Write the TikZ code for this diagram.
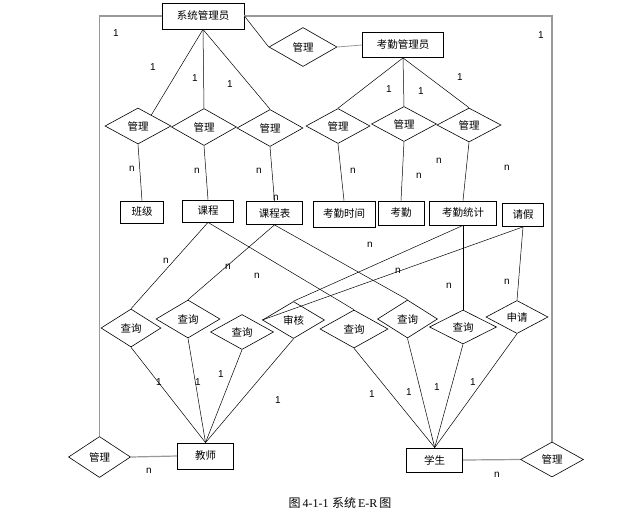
\documentclass[tikz,border=0pt]{standalone}
\usepackage{fontspec}
\setmainfont{Liberation Sans}
\newfontfamily\cjk{Noto Sans CJK SC}
\newfontfamily\capfont{Liberation Serif}
\usetikzlibrary{shapes.geometric,calc}
\begin{document}
\begin{tikzpicture}[x=1pt,y=-1pt,
 ent/.style={draw,line width=0.8pt,inner sep=0pt,font=\cjk\fontsize{10.5}{12}\selectfont},
 dia/.style={draw,diamond,line width=0.6pt,inner sep=0pt,minimum width=64pt,minimum height=36pt,font=\cjk\fontsize{10.5}{12}\selectfont},
 lk/.style={line width=0.5pt},
 fr/.style={line width=1.2pt,draw=gray!80},
 lb/.style={font=\fontsize{10}{12}\selectfont,inner sep=0pt}]
\useasboundingbox (0,0) rectangle (639,528);
\fill[white] (0,0) rectangle (639,528);
% entities
\node[ent,minimum width=82pt,minimum height=26pt] (sys) at (203,16) {系统管理员};
\node[ent,minimum width=81pt,minimum height=25pt] (kq) at (403,45) {考勤管理员};
\node[ent,minimum width=43pt,minimum height=22pt] (bj) at (142,212) {班级};
\node[ent,minimum width=51pt,minimum height=22pt] (kc) at (208,211) {课程};
\node[ent,minimum width=56pt,minimum height=23pt] (kcb) at (274.5,213) {课程表};
\node[ent,minimum width=62pt,minimum height=26pt] (kqsj) at (344,214) {考勤时间};
\node[ent,minimum width=46pt,minimum height=24pt] (kqq) at (401,213) {考勤};
\node[ent,minimum width=67pt,minimum height=24pt] (kqtj) at (463,213) {考勤统计};
\node[ent,minimum width=41pt,minimum height=23pt] (qj) at (523,215) {请假};
\node[ent,minimum width=56pt,minimum height=26pt] (js) at (205.5,456) {教师};
\node[ent,minimum width=56pt,minimum height=24pt] (xs) at (434.7,460) {学生};
% relationships
\node[dia,minimum width=68pt,minimum height=39pt] (dtop) at (303,47) {管理};
\node[dia,minimum width=66pt] (d1) at (138,126) {管理};
\node[dia,minimum width=65pt,minimum height=37pt] (d2) at (204,127) {管理};
\node[dia,minimum width=66pt,minimum height=37pt] (d3) at (270,128) {管理};
\node[dia,minimum height=35pt] (d4) at (338,126) {管理};
\node[dia,minimum width=65pt,minimum height=35pt] (d5) at (404,124) {管理};
\node[dia,minimum height=34pt] (d6) at (469,125) {管理};
\node[dia,minimum width=60pt,minimum height=38pt] (qA) at (131,328) {查询};
\node[dia,minimum height=38pt] (qB) at (188,319) {查询};
\node[dia,minimum width=63pt,minimum height=35pt] (qC) at (242,332) {查询};
\node[dia,minimum width=62pt,minimum height=37pt] (sh) at (293.5,320) {审核};
\node[dia,minimum width=68pt,minimum height=38pt] (qD) at (354,329) {查询};
\node[dia,minimum width=60pt,minimum height=38pt] (qE) at (407.5,319) {查询};
\node[dia,minimum width=67pt,minimum height=34pt] (qF) at (463,327) {查询};
\node[dia,minimum width=62pt,minimum height=33pt] (sq) at (517,317) {申请};
\node[dia,minimum width=62pt,minimum height=41pt] (mL) at (99.5,457) {管理};
\node[dia,minimum width=63pt,minimum height=35pt] (mR) at (552,459.5) {管理};
% frame
\draw[fr] (sys.west) -| (mL.north);
\draw[fr] (sys.east) -| (mR.north);
\draw[fr] (mL.east) -- (js.west);
\draw[fr] (xs.east) -- (mR.west);
\draw[lk] (sys.east) -- (dtop.west);
\draw[fr,line width=0.8pt] (dtop.east) -- (kq.west);
% admin links
\draw[lk] (sys.south) -- ($(d1.north)!0.4!(d1.east)$);
\draw[lk] (sys.south) -- (d2.north);
\draw[lk] (sys.south) -- (d3.north);
\draw[lk] (kq.south) -- (d4.north);
\draw[lk] (kq.south) -- (d5.north);
\draw[lk] (kq.south) -- (d6.north);
\draw[lk] (d1.south) -- (bj.north);
\draw[lk] (d2.south) -- (kc.north);
\draw[lk] (d3.south) -- (kcb.north);
\draw[lk] (d4.south) -- (kqsj.north);
\draw[lk] (d5.south) -- (kqq.north);
\draw[lk] (d6.south) -- (kqtj.north);
% lower links
\draw[lk] (kc.south) -- (qA.north);
\draw[lk] (kc.south) -- (qD.north);
\draw[lk] (kcb.south) -- (qB.north);
\draw[lk] (kcb.south) -- (qE.north);
\draw[lk] (kqtj.south) -- (sh.north);
\draw[lk] (kqtj.south) -- (qF.north);
\draw[lk] (qj.south) -- (sh.west);
\draw[lk] (qj.south) -- (sq.north);
\foreach \d in {qA,qB,qC,sh}{\draw[lk] (\d.south) -- (js.north);}
\foreach \d in {qD,qE,qF,sq}{\draw[lk] (\d.south) -- (xs.north);}
% labels
\node[lb] (l1) at (116,33) {1};
\node[lb] (l2) at (541,35) {1};
\node[lb] (l3) at (153,67) {1};
\node[lb] (l4) at (195,78) {1};
\node[lb] (l5) at (230,84) {1};
\node[lb] (l6) at (389,89) {1};
\node[lb] (l7) at (421,91) {1};
\node[lb] (l8) at (460,77) {1};
\node[lb] (n1) at (132,169) {n};
\node[lb] (n2) at (197,171) {n};
\node[lb] (n3) at (259,171) {n};
\node[lb] (n4) at (276,198) {n};
\node[lb] (n5) at (353,171) {n};
\node[lb] (n6) at (419,176) {n};
\node[lb] (n7) at (439,161) {n};
\node[lb] (n8) at (507,168) {n};
\node[lb] (n9) at (166,261) {n};
\node[lb] (n10) at (228,267) {n};
\node[lb] (n11) at (257,276) {n};
\node[lb] (n12) at (370,245) {n};
\node[lb] (n13) at (398,271) {n};
\node[lb] (n14) at (449,286) {n};
\node[lb] (n15) at (507,282) {n};
\node[lb] (o1) at (159,382) {1};
\node[lb] (o2) at (198,382) {1};
\node[lb] (o3) at (221,374) {1};
\node[lb] (o4) at (278,400) {1};
\node[lb] (o5) at (372,394) {1};
\node[lb] (o6) at (409,392) {1};
\node[lb] (o7) at (437,387) {1};
\node[lb] (o8) at (473,382) {1};
\node[lb] (n16) at (149,471) {n};
\node[lb] (n17) at (497,475) {n};
\node[inner sep=0pt,font=\fontsize{12}{14}\selectfont] (cap) at (340,503) {{\cjk 图}\,{\capfont 4-1-1} {\cjk 系统}\,{\capfont E-R}\,{\cjk 图}};
\end{tikzpicture}
\end{document}
